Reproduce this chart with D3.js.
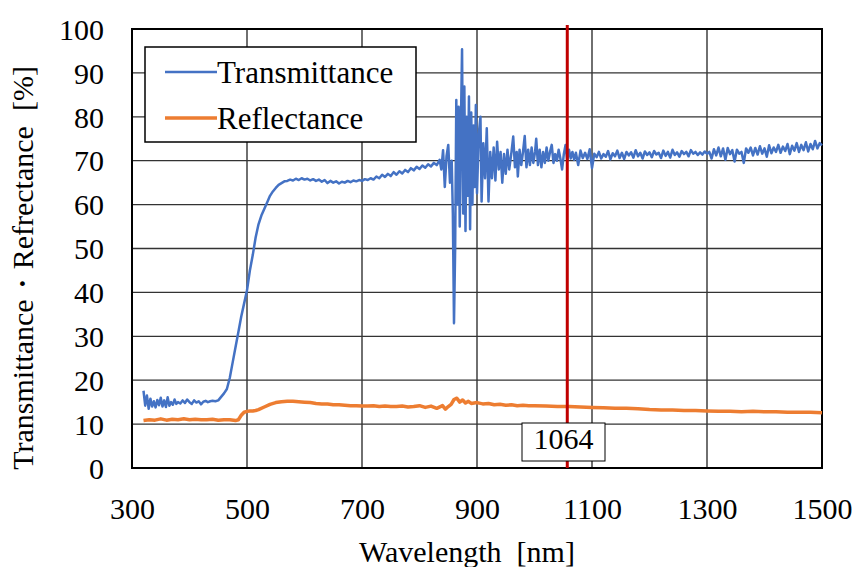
<!DOCTYPE html>
<html>
<head>
<meta charset="utf-8">
<script src="https://cdn.jsdelivr.net/npm/d3@7/dist/d3.min.js"></script>
<style>
  html, body { margin: 0; padding: 0; background: #fff; }
  svg { display: block; }
</style>
</head>
<body>
<svg id="chart" width="858" height="567" font-family="Liberation Serif"></svg>
<script>
// ---- data ----
const xTicks = [300, 500, 700, 900, 1100, 1300, 1500];
const yTicks = [0, 10, 20, 30, 40, 50, 60, 70, 80, 90, 100];
const seriesNames = ["Transmittance", "Reflectance"];
const xTitle = "Wavelength  [nm]";
const yTitle = "Transmittance・Refrectance  [%]";
const markerLabel = "1064";
const markerWavelength = 1057;

const transmittance = [
  [320,17.6],[323,14.2],[326,16.5],[329,13.5],[332,15.8],[335,14.0],[338,15.2],[341,13.8],[344,15.5],[347,14.3],
  [350,16.0],[353,14.0],[356,15.4],[359,13.9],[362,16.1],[365,14.2],[368,15.0],[371,14.4],[374,15.6],[377,14.6],
  [380,15.0],[384,14.7],[388,15.4],[392,14.8],[396,15.6],[400,15.0],[404,14.6],[408,15.4],[412,14.9],[416,15.2],
  [420,14.5],[424,15.1],[428,15.3],[432,15.0],[436,15.2],[440,15.3],[445,15.2],[450,15.4],[455,16.2],[460,17.0],
  [465,18.0],[470,20.5],[475,24.0],[480,27.5],[485,31.0],[490,34.5],[495,37.5],[500,40.5],[505,45.0],[510,48.5],
  [515,52.5],[520,55.5],[525,57.5],[530,59.0],[535,60.5],[540,62.0],[545,63.0],[550,63.8],[555,64.5],[560,64.9],
  [565,65.3],[570,65.4],[575,65.7],[580,65.5],[585,65.9],[590,65.6],[595,66.0],[600,65.7],[605,65.9],[610,65.5],
  [615,65.8],[620,65.4],[625,65.7],[630,65.2],[635,65.6],[640,64.9],[645,65.4],[650,65.0],[655,65.3],[660,64.8],
  [665,65.2],[670,65.0],[675,65.4],[680,65.1],[685,65.5],[690,65.3],[695,65.6],[700,65.4],[705,65.8],[710,65.6],
  [715,66.0],[720,65.7],[725,66.4],[730,66.0],[735,66.8],[740,66.3],[745,67.0],[750,66.5],[755,67.4],[760,66.8],
  [765,67.6],[770,67.1],[775,67.9],[780,67.4],[785,68.3],[790,67.8],[795,68.6],[800,68.1],[805,68.9],[810,68.4],
  [815,69.2],[820,68.7],[825,69.5],[830,69.0],[835,70.2],[838,68.0],[841,72.4],[844,64.0],[847,71.0],[850,73.6],
  [853,65.0],[856,70.0],[858,58.0],[860,33.0],[862,50.0],[864,83.8],[866,60.0],[868,82.3],[870,55.0],[872,78.0],
  [874,95.4],[876,58.0],[878,86.9],[880,54.0],[882,80.0],[884,62.0],[886,84.6],[888,54.4],[890,81.0],[892,60.0],
  [894,78.0],[896,64.0],[898,82.7],[900,62.6],[903,76.0],[906,80.0],[908,60.7],[911,74.0],[914,66.0],[917,77.4],
  [920,60.7],[923,72.0],[926,66.0],[929,73.0],[932,65.5],[935,74.3],[938,68.0],[941,72.0],[944,65.0],[947,71.5],
  [950,67.0],[953,72.5],[956,68.0],[960,72.0],[963,75.5],[966,68.5],[969,72.0],[971,66.4],[974,72.5],[977,69.0],
  [980,72.0],[983,75.6],[986,68.5],[989,72.5],[992,69.0],[995,73.0],[998,69.5],[1001,72.0],[1003,75.0],[1006,69.0],
  [1009,72.5],[1012,68.5],[1015,72.0],[1018,69.5],[1021,73.0],[1024,70.0],[1027,72.0],[1030,73.6],[1033,69.5],[1036,71.5],
  [1039,70.0],[1042,72.5],[1045,70.5],[1048,68.0],[1051,71.5],[1054,73.6],[1057,70.0],[1060,72.5],[1063,70.5],[1066,72.0],
  [1069,70.2],[1072,71.8],[1076,69.0],[1080,72.3],[1084,70.6],[1088,71.8],[1092,70.4],[1096,72.6],[1100,68.3],[1104,71.6],
  [1108,70.8],[1112,72.0],[1116,70.5],[1120,71.5],[1124,70.9],[1128,72.2],[1132,70.3],[1136,71.7],[1140,71.0],[1144,72.3],
  [1148,70.6],[1152,71.8],[1156,70.4],[1160,72.0],[1164,71.2],[1168,71.9],[1172,70.7],[1176,72.4],[1180,71.0],[1184,71.8],
  [1188,70.5],[1192,72.1],[1196,71.3],[1200,71.9],[1204,70.8],[1208,72.2],[1212,71.4],[1216,71.8],[1220,70.6],[1224,72.3],
  [1228,71.1],[1232,72.0],[1236,70.7],[1240,72.5],[1244,71.3],[1248,71.9],[1252,70.9],[1256,72.2],[1260,71.5],[1264,72.0],
  [1268,71.0],[1272,72.4],[1276,71.6],[1280,72.0],[1284,71.3],[1288,71.9],[1292,71.4],[1296,72.1],[1300,71.6],[1304,72.0],
  [1308,70.5],[1312,72.6],[1316,71.2],[1320,73.0],[1324,71.0],[1328,72.8],[1332,70.2],[1336,72.9],[1340,71.5],[1344,72.4],
  [1348,69.8],[1352,72.5],[1356,71.6],[1360,72.0],[1364,69.5],[1368,72.8],[1372,71.8],[1376,73.0],[1380,71.2],[1384,72.9],
  [1388,71.4],[1392,73.3],[1396,71.6],[1400,72.8],[1404,70.9],[1408,73.5],[1412,71.7],[1416,73.0],[1420,72.0],[1424,73.6],
  [1428,71.8],[1432,73.2],[1436,72.2],[1440,73.8],[1444,71.5],[1448,73.4],[1452,72.3],[1456,74.0],[1460,72.0],[1464,73.6],
  [1468,72.4],[1472,74.2],[1476,72.1],[1480,73.8],[1484,72.6],[1488,74.5],[1492,72.8],[1496,74.0],[1500,73.5]
];

const reflectance = [
  [320,10.8],[330,11.0],[340,10.9],[350,11.2],[360,10.9],[370,11.1],[380,11.0],[390,11.2],[400,11.0],[410,11.1],
  [420,11.0],[430,11.0],[440,11.1],[450,10.9],[460,11.0],[470,11.0],[480,10.8],[485,11.0],[490,12.0],[495,12.7],
  [500,12.9],[505,13.0],[510,13.0],[515,13.1],[520,13.3],[530,13.9],[540,14.5],[550,14.9],[560,15.1],[570,15.2],
  [580,15.2],[590,15.1],[600,15.0],[610,14.9],[620,14.7],[630,14.6],[640,14.6],[650,14.4],[660,14.4],[670,14.3],
  [680,14.2],[690,14.2],[700,14.1],[710,14.1],[720,14.2],[730,14.0],[740,14.1],[750,14.0],[760,14.0],[770,14.1],
  [780,13.9],[790,14.0],[800,14.2],[810,13.8],[820,14.1],[830,13.6],[840,14.2],[845,13.4],[850,14.0],[855,14.5],
  [860,15.6],[865,15.9],[870,15.0],[875,15.5],[880,14.8],[885,15.2],[890,14.7],[900,14.9],[910,14.6],[920,14.7],
  [930,14.4],[940,14.5],[950,14.3],[960,14.4],[970,14.2],[980,14.3],[990,14.2],[1000,14.2],[1020,14.1],[1040,14.0],
  [1060,14.0],[1080,13.9],[1100,13.8],[1120,13.7],[1140,13.6],[1160,13.6],[1180,13.5],[1200,13.3],[1220,13.2],[1240,13.2],
  [1260,13.1],[1280,13.1],[1300,13.0],[1320,12.9],[1340,12.9],[1360,12.8],[1380,12.9],[1400,12.8],[1420,12.8],[1440,12.7],
  [1460,12.7],[1480,12.7],[1500,12.6]
];

// ---- layout ----
const plot = { left: 132, right: 822, top: 29, bottom: 468 };
const colors = { Transmittance: "#4472C4", Reflectance: "#ED7D31" };

const svg = d3.select("#chart");
const x = d3.scaleLinear().domain([300, 1500]).range([plot.left, plot.right]);
const y = d3.scaleLinear().domain([0, 100]).range([plot.bottom, plot.top]);

function serif(sel, size) {
  return sel.attr("font-family", "Liberation Serif")
    .style("font-family", '"Liberation Serif"', "important")
    .style("font-size", size + "px", "important")
    .attr("fill", "#000");
}

// grid
const grid = svg.append("g");
grid.selectAll("line.gx").data(xTicks).join("line")
  .attr("x1", d => x(d)).attr("x2", d => x(d))
  .attr("y1", plot.top).attr("y2", plot.bottom)
  .attr("stroke", "#222").attr("stroke-width", 1.3);
grid.selectAll("line.gy").data(yTicks).join("line")
  .attr("x1", plot.left).attr("x2", plot.right)
  .attr("y1", d => y(d)).attr("y2", d => y(d))
  .attr("stroke", "#333").attr("stroke-width", 1.3);

// frame
svg.append("rect")
  .attr("x", plot.left).attr("y", plot.top)
  .attr("width", plot.right - plot.left).attr("height", plot.bottom - plot.top)
  .attr("fill", "none").attr("stroke", "#000").attr("stroke-width", 2);

// axes labels via d3 axes
const xAxis = d3.axisBottom(x).tickValues(xTicks).tickFormat(d3.format("d")).tickSize(0).tickPadding(0);
const gx = svg.append("g").attr("transform", `translate(0,${plot.bottom})`).call(xAxis);
gx.select(".domain").remove();
gx.attr("font-family", "Liberation Serif").attr("font-size", 30);
serif(gx.selectAll("text").attr("dy", null).attr("y", 51), 30);

const yAxis = d3.axisLeft(y).tickValues(yTicks).tickFormat(d3.format("d")).tickSize(0).tickPadding(0);
const gy = svg.append("g").attr("transform", `translate(${plot.left - 28},0)`).call(yAxis);
gy.select(".domain").remove();
gy.attr("font-family", "Liberation Serif").attr("font-size", 30);
serif(gy.selectAll("text").attr("dy", "0.34em").attr("x", 0), 30);

// series
const line = d3.line().x(d => x(d[0])).y(d => y(d[1]));
svg.append("path").datum(transmittance).attr("d", line)
  .attr("fill", "none").attr("stroke", colors.Transmittance).attr("stroke-width", 2.5)
  .attr("stroke-linejoin", "round");
svg.append("path").datum(reflectance).attr("d", line)
  .attr("fill", "none").attr("stroke", colors.Reflectance).attr("stroke-width", 3.5)
  .attr("stroke-linejoin", "round");

// marker line
svg.append("line")
  .attr("x1", x(markerWavelength)).attr("x2", x(markerWavelength))
  .attr("y1", plot.top - 4).attr("y2", plot.bottom)
  .attr("stroke", "#C00000").attr("stroke-width", 3);

// marker label
const lb = svg.append("g");
lb.append("rect").attr("x", 522).attr("y", 423).attr("width", 83).attr("height", 38)
  .attr("fill", "#fff").attr("stroke", "#000").attr("stroke-width", 1);
serif(lb.append("text").attr("x", 563.5).attr("y", 449).attr("text-anchor", "middle"), 30)
  .text(markerLabel);

// legend
const lg = svg.append("g");
lg.append("rect").attr("x", 145).attr("y", 47).attr("width", 271).attr("height", 95)
  .attr("fill", "#fff").attr("stroke", "#000").attr("stroke-width", 1.5);
seriesNames.forEach((name, i) => {
  const cy = 72 + i * 46;
  lg.append("line").attr("x1", 165).attr("x2", 217).attr("y1", cy).attr("y2", cy)
    .attr("stroke", colors[name]).attr("stroke-width", name === "Reflectance" ? 3.5 : 2.5);
  serif(lg.append("text").attr("x", 217).attr("y", cy + 11), 31).text(name);
});

// axis titles
serif(svg.append("text").attr("x", 467).attr("y", 562).attr("text-anchor", "middle"), 30)
  .style("white-space", "pre").text(xTitle);
serif(svg.append("text").attr("transform", "translate(33,268) rotate(-90)").attr("text-anchor", "middle"), 30)
  .style("white-space", "pre").text(yTitle);
</script>
</body>
</html>
